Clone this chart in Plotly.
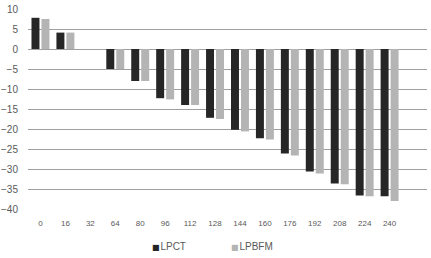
import plotly.graph_objects as go

categories = ["0", "16", "32", "64", "80", "96", "112", "128", "144", "160", "176", "192", "208", "224", "240"]
lpct = [7.8, 4.1, None, -5.0, -8.0, -12.3, -14.0, -17.2, -20.2, -22.3, -26.1, -30.6, -33.6, -36.6, -36.8]
lpbfm = [7.5, 4.1, None, -5.0, -8.0, -12.6, -14.0, -17.5, -20.6, -22.6, -26.6, -31.1, -33.8, -36.8, -38.0]
y_ticks = [10, 5, 0, -5, -10, -15, -20, -25, -30, -35, -40]
series_names = ["LPCT", "LPBFM"]
series_colors = ["#262626", "#b4b4b4"]

cat_order = categories + [" "]

fig = go.Figure()
for name, vals, col in zip(series_names, [lpct, lpbfm], series_colors):
    fig.add_trace(go.Bar(name=name, x=categories, y=vals, showlegend=False,
                         marker=dict(color=col, line=dict(width=0))))

font_family = "Liberation Sans, Arial, sans-serif"

# legend drawn as text annotations (square glyph + name)
legend_x = [0.305, 0.505]
for name, col, lx in zip(series_names, series_colors, legend_x):
    fig.add_annotation(
        xref="paper", yref="paper", x=lx, y=-0.187, xanchor="left", yanchor="middle",
        showarrow=False,
        text=(f"<span style='color:{col};font-family:DejaVu Sans;font-size:8px'>■</span>"
              f"<span style='font-size:3px'> </span>{name}"),
        font=dict(family=font_family, size=10, color="#595959"),
    )

fig.update_layout(
    width=431, height=258,
    margin=dict(l=27.5, r=3.5, t=9.3, b=48.7, autoexpand=False),
    paper_bgcolor="white", plot_bgcolor="white",
    barmode="group", bargap=0.2, bargroupgap=0.2,
    font=dict(family=font_family, size=9, color="#595959"),
    showlegend=False,
    xaxis=dict(type="category", categoryorder="array", categoryarray=cat_order,
               range=[-0.5, 15.5], showgrid=False, showline=False, zeroline=False,
               ticks="", ticklabelstandoff=8, automargin=False,
               tickfont=dict(size=8, color="#595959")),
    yaxis=dict(range=[-40, 10], tickvals=y_ticks, showgrid=True, gridcolor="#a0a0a0",
               gridwidth=1, zeroline=False, showline=False, ticks="", automargin=False,
               ticklabelstandoff=9,
               tickfont=dict(size=10, color="#595959")),
)

fig.write_html("out.html")
